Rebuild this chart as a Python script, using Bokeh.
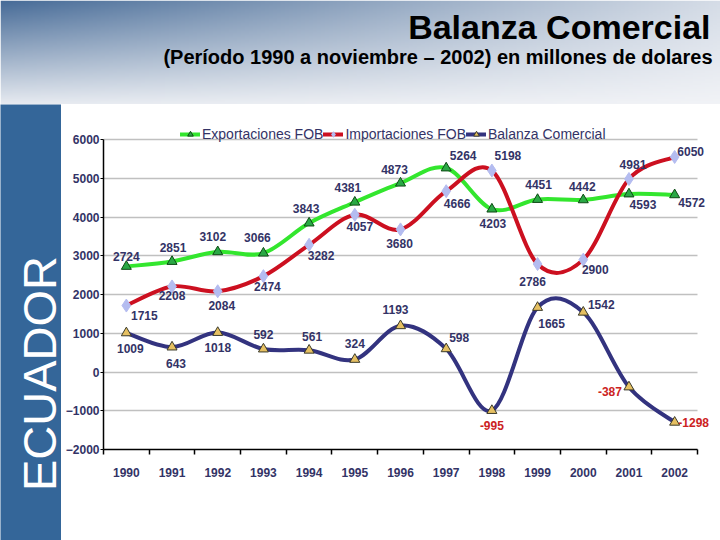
import numpy as np
from bokeh.plotting import figure
from bokeh.models import (ColumnDataSource, LabelSet, Label, Legend, LegendItem,
                          FixedTicker, Range1d)
from bokeh.layouts import column, row
from bokeh.embed import file_html
from bokeh.resources import INLINE
from bokeh.core.properties import value

# ---------------- data ----------------
years = ["1990", "1991", "1992", "1993", "1994", "1995", "1996",
         "1997", "1998", "1999", "2000", "2001", "2002"]
exportaciones = [2724, 2851, 3102, 3066, 3843, 4381, 4873, 5264, 4203, 4451, 4442, 4593, 4572]
importaciones = [1715, 2208, 2084, 2474, 3282, 4057, 3680, 4666, 5198, 2786, 2900, 4981, 5550]
balanza = [1009, 643, 1018, 592, 561, 324, 1193, 598, -995, 1665, 1542, -387, -1298]
exp_labels = ["2724", "2851", "3102", "3066", "3843", "4381", "4873", "5264", "4203", "4451", "4442", "4593", "4572"]
imp_labels = ["1715", "2208", "2084", "2474", "3282", "4057", "3680", "4666", "5198", "2786", "2900", "4981", "6050"]
bal_labels = ["1009", "643", "1018", "592", "561", "324", "1193", "598", "-995", "1665", "1542", "-387", "-1298"]
y_ticks = [-2000, -1000, 0, 1000, 2000, 3000, 4000, 5000, 6000]
Y_MIN, Y_MAX = -2000, 6000

# label offsets (screen px) -- layout only
exp_dx = [0, 1, -5, -6, -3, -7, -6, 17, 1, 1, -1, 14, 17]
exp_dy = [10, 14, 15, 16, 15, 15, 14, 13, -14, 15, 13, -10, -8]
imp_dx = [18, 0, 4, 4, 12, 5, -1, 11, 16, -5, 12, 4, 16]
imp_dy = [-10, -9, -14, -10, -11, -12, -14, -12, 15, -17, -10, 14, 5]
bal_dx = [4, 4, 0, 0, 3, 0, -5, 13, 0, 14, 18, -19, 19]
bal_dy = [-16, -16, -15, 15, 14, 16, 16, 11, -15, -16, 8, -5, 0]

NAVY_TXT = "#333366"
FONT = "Liberation Sans"
BAR_BLUE = "#346699"

xs = list(range(len(years)))
X_MIN, X_MAX = -0.5, len(years) - 0.5


def bezier_source(x, y):
    P = np.column_stack([np.asarray(x, float), np.asarray(y, float)])
    n = len(P)
    d = dict(x0=[], y0=[], x1=[], y1=[], cx0=[], cy0=[], cx1=[], cy1=[])
    for i in range(n - 1):
        p0 = P[i - 1] if i > 0 else P[i]
        p1 = P[i]
        p2 = P[i + 1]
        p3 = P[i + 2] if i + 2 < n else P[i + 1]
        c1 = p1 + (p2 - p0) / 6.0
        c2 = p2 - (p3 - p1) / 6.0
        d["x0"].append(p1[0]); d["y0"].append(p1[1])
        d["x1"].append(p2[0]); d["y1"].append(p2[1])
        d["cx0"].append(c1[0]); d["cy0"].append(c1[1])
        d["cx1"].append(c2[0]); d["cy1"].append(c2[1])
    return ColumnDataSource(d)


W_TOTAL = 720
H_HEAD = 104
H_BODY = 436
W_LEFT = 61
W_CHART = W_TOTAL - W_LEFT
BORDER_LEFT = 42
BORDER_BOTTOM = 91
FRAME_H = H_BODY - BORDER_BOTTOM          # 345 px
FRAME_W = W_CHART - BORDER_LEFT           # 617 px
PLOT_PX_Y = 310                            # px between -2000 and 6000
PLOT_PX_X = 594                            # px between x = -0.5 and 12.5
TOP_GAP = FRAME_H - PLOT_PX_Y

# ---------------- header ----------------
header = figure(width=W_TOTAL, height=H_HEAD, x_range=(0, W_TOTAL), y_range=(0, H_HEAD),
                toolbar_location=None, output_backend="svg", min_border=0)
header.axis.visible = False
header.grid.visible = False
header.outline_line_color = None

GH, GW = 52, 180
img = np.empty((GH, GW), dtype=np.uint32)
view = img.view(dtype=np.uint8).reshape((GH, GW, 4))
blue = np.array([72, 108, 152], float)
white = np.array([244, 245, 248], float)
for j in range(GH):
    yn = 1.0 - j / (GH - 1)
    for i in range(GW):
        xn = i / (GW - 1)
        t = 1 - (1 - 0.82 * xn) * (1 - 0.92 * yn)
        c = blue + (white - blue) * t
        view[j, i, 0] = int(c[0]); view[j, i, 1] = int(c[1]); view[j, i, 2] = int(c[2]); view[j, i, 3] = 255
header.image_rgba(image=[img], x=0, y=0, dw=W_TOTAL, dh=H_HEAD)
header.text(x=[710], y=[H_HEAD - 26], text=["Balanza Comercial"], text_align="right",
            text_baseline="middle", text_font=value(FONT), text_font_style="bold",
            text_font_size="34px", text_color="black")
header.text(x=[712], y=[H_HEAD - 56], text=["(Período 1990 a noviembre – 2002) en millones de dolares"],
            text_align="right", text_baseline="middle", text_font=value(FONT),
            text_font_style="bold", text_font_size="20px", text_color="black")

# ---------------- left bar ----------------
can_unalign = "frame_align" in figure.properties()
if can_unalign:
    left_bottom, left_h, ecu_y = 0, H_BODY, (540 - 373)
else:
    left_bottom, left_h, ecu_y = BORDER_BOTTOM, FRAME_H, 449 - 332
left = figure(width=W_LEFT, height=H_BODY, x_range=(0, W_LEFT), y_range=(0, left_h),
              toolbar_location=None, output_backend="svg",
              min_border_left=0, min_border_right=0, min_border_top=0, min_border_bottom=left_bottom)
if can_unalign:
    left.frame_align = False
left.axis.visible = False
left.grid.visible = False
left.outline_line_color = None
left.background_fill_color = BAR_BLUE
left.border_fill_color = BAR_BLUE
left.add_layout(Label(x=39, y=ecu_y, text="ECUADOR", angle=np.pi / 2, text_align="center",
                      text_baseline="middle", text_font=FONT, text_font_size="47px",
                      text_color="white"))

# ---------------- chart ----------------
y_top = Y_MAX + TOP_GAP * (Y_MAX - Y_MIN) / PLOT_PX_Y
x_right = X_MIN + FRAME_W * (X_MAX - X_MIN) / PLOT_PX_X
p = figure(width=W_CHART, height=H_BODY, x_range=Range1d(X_MIN, x_right),
           y_range=Range1d(Y_MIN, y_top), toolbar_location=None, output_backend="svg",
           min_border_left=BORDER_LEFT, min_border_right=0, min_border_top=0,
           min_border_bottom=BORDER_BOTTOM)
if can_unalign:
    p.frame_align = False
p.outline_line_color = None
p.xgrid.visible = False
p.background_fill_color = "white"
p.border_fill_color = "white"

yg = p.ygrid[0]
if "cross_bounds" in type(yg).properties():
    yg.grid_line_color = "#c0c0c0"
    yg.grid_line_width = 1.5
    yg.cross_bounds = (X_MIN, X_MAX)
else:
    yg.visible = False
    p.segment(x0=[X_MIN] * len(y_ticks), x1=[X_MAX] * len(y_ticks), y0=y_ticks, y1=y_ticks,
              line_color="#c0c0c0", line_width=1.5)

p.yaxis.ticker = FixedTicker(ticks=y_ticks)
p.yaxis.bounds = (Y_MIN, Y_MAX)
p.xaxis.ticker = FixedTicker(ticks=xs, minor_ticks=[i - 0.5 for i in range(len(years) + 1)])
p.xaxis.bounds = (X_MIN, X_MAX)
p.xaxis.major_label_overrides = {i: years[i] for i in xs}
for ax in (p.xaxis[0], p.yaxis[0]):
    ax.axis_line_color = "black"
    ax.axis_line_width = 1.5
    ax.major_label_text_font = FONT
    ax.major_label_text_font_size = "12px"
    ax.major_label_text_font_style = "bold"
    ax.major_label_text_color = NAVY_TXT
    ax.minor_tick_in = 0
    ax.major_tick_in = 0
p.yaxis.major_tick_out = 3
p.yaxis.minor_tick_out = 0
p.yaxis.major_label_standoff = 1
p.xaxis.major_tick_out = 0
p.xaxis.minor_tick_out = 5
p.xaxis.minor_tick_line_color = "black"
p.xaxis.minor_tick_line_width = 1.5
p.xaxis.major_label_standoff = 13

series = [
    ("Exportaciones FOB", exportaciones, exp_labels, exp_dx, exp_dy, "#33e62e", "triangle", 10, "#2aa845", "#0e4a14"),
    ("Importaciones FOB", importaciones, imp_labels, imp_dx, imp_dy, "#cc1020", "diamond", 13, "#b4bcf0", None),
    ("Balanza Comercial", balanza, bal_labels, bal_dx, bal_dy, "#33337f", "triangle", 10, "#e6c062", "#3a3a2a"),
]

items = []
for name, vals, labs, dx, dy, lc, mk, ms, mf, ml in series:
    line = p.bezier(x0="x0", y0="y0", x1="x1", y1="y1", cx0="cx0", cy0="cy0", cx1="cx1", cy1="cy1",
                    source=bezier_source(xs, vals), line_color=lc, line_width=4, line_cap="round")
    sc = p.scatter(x=xs, y=vals, marker=mk, size=ms, fill_color=mf,
                   line_color=ml if ml else mf, line_width=1)
    colors = ["#cc2222" if (name == "Balanza Comercial" and v < 0) else NAVY_TXT for v in vals]
    src = ColumnDataSource(dict(x=xs, y=vals, text=labs, dx=dx, dy=dy, color=colors))
    p.add_layout(LabelSet(x="x", y="y", text="text", x_offset="dx", y_offset="dy", source=src,
                          text_align="center", text_baseline="middle", text_font=value(FONT),
                          text_font_size="12px", text_font_style="bold", text_color="color"))
    items.append(LegendItem(label=name, renderers=[line, sc]))

legend = Legend(items=items, orientation="horizontal", location=(77, FRAME_H - 31 - 7),
                background_fill_alpha=0, border_line_alpha=0, padding=0, margin=0, spacing=0,
                glyph_width=20, glyph_height=14, label_standoff=2, label_height=14,
                label_text_font=FONT, label_text_font_size="14px", label_text_color=NAVY_TXT)
p.add_layout(legend)

layout = column(header, row(left, p))
open("out.html", "w").write(file_html(layout, INLINE))
